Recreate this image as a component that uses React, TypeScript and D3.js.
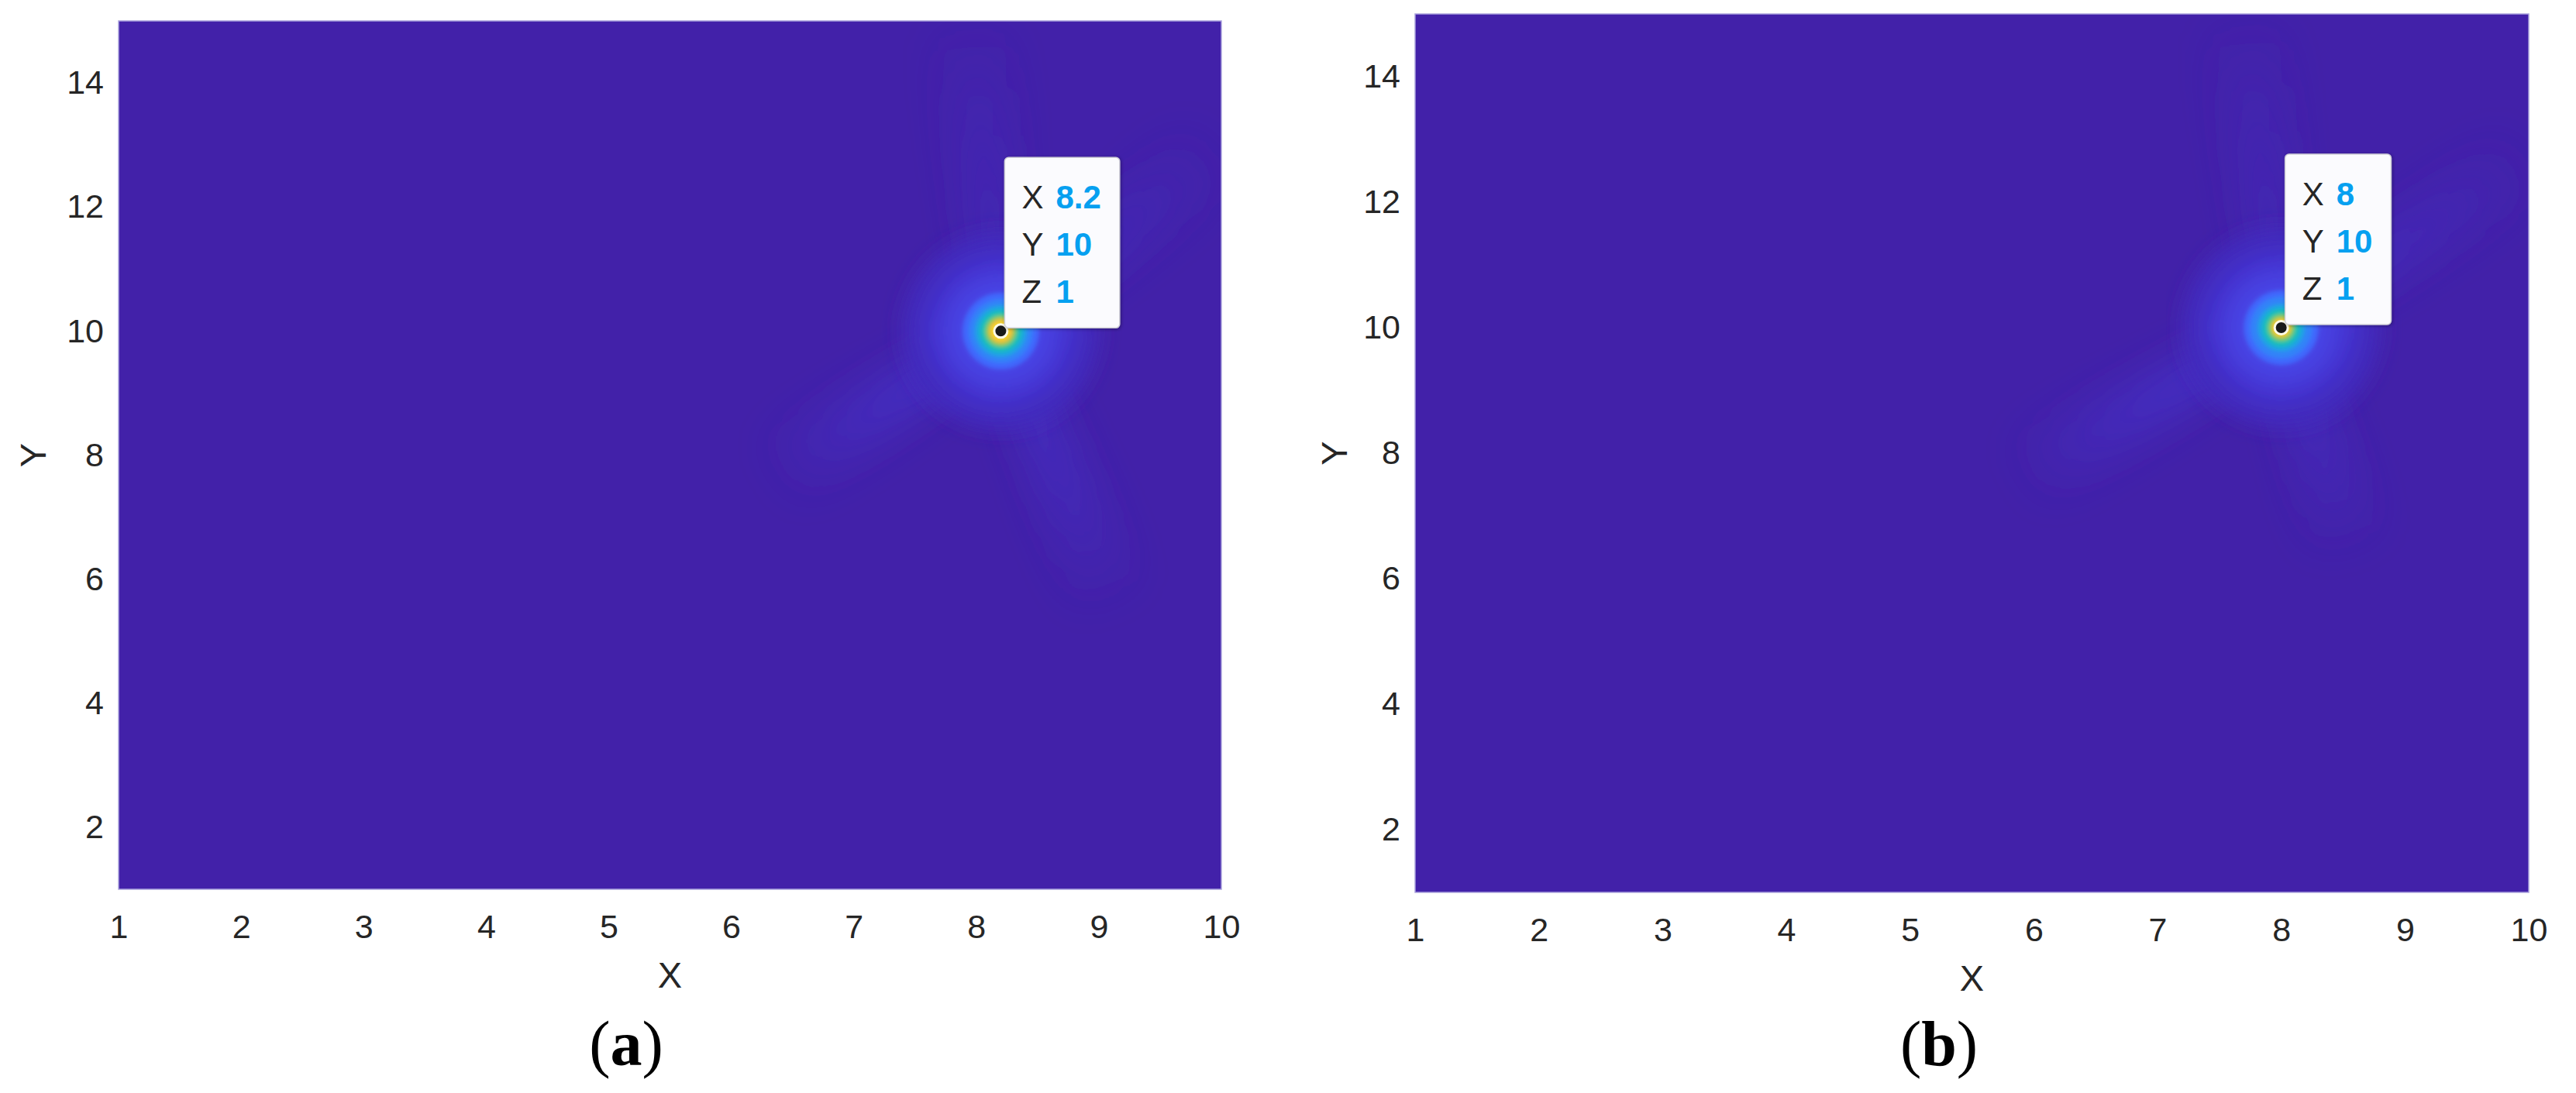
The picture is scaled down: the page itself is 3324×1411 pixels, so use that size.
import React, { useEffect, useRef } from 'react';
import * as d3 from 'd3';

// axes
const xDomain = [1, 10];
const yDomain = [1, 15];
const xTicks = [1, 2, 3, 4, 5, 6, 7, 8, 9, 10];
const yTicks = [2, 4, 6, 8, 10, 12, 14];

// data tips shown on the two panels
const tipX = [8.2, 8];
const tipY = [10, 10];
const tipZ = [1, 1];
const tipNames = ['X', 'Y', 'Z'];
const panelCaptions = ['a', 'b'];

// radial profile of the peak, distance in x units -> level (outer to inner)
const ringDistA = [0.8, 0.6, 0.43, 0.31, 0.26, 0.21, 0.17, 0.13, 0.1, 0.07];
const ringLevelA = [0.03, 0.06, 0.1, 0.2, 0.27, 0.38, 0.5, 0.65, 0.8, 0.92];
const ringDistB = [0.8, 0.6, 0.43, 0.3, 0.25, 0.19, 0.15, 0.11, 0.08, 0.06];
const ringLevelB = [0.03, 0.06, 0.1, 0.2, 0.27, 0.38, 0.5, 0.65, 0.8, 0.92];

// faint streaks leaving the peak: end point and level at the start
const streakEndXA = [6.36, 9.1, 9.96, 7.95];
const streakEndYA = [7.68, 5.64, 12.96, 14.95];
const streakLevelA = [0.06, 0.045, 0.03, 0.025];
const streakEndXB = [5.9, 8.55, 10, 7.7];
const streakEndYB = [7.63, 6.5, 12.74, 14.9];
const streakLevelB = [0.06, 0.04, 0.035, 0.025];

// parula colour map
const parula = [
  '#4221a9', '#4537d5', '#484df0', '#4563fd', '#327cfc', '#2b91ef', '#20a5e3', '#08b5d0',
  '#19bfb6', '#37c897', '#64cd6f', '#9dc943', '#d1bf27', '#f8ba3d', '#fccf30', '#f5e924', '#f9fb15'
];

const panels = [
  { left: 153, top: 27, right: 1576, bottom: 1148, captionX: 808, yLabelDx: -94 },
  { left: 1826, top: 18, right: 3263, bottom: 1152, captionX: 2502, yLabelDx: -88 }
];

const ringDist = [ringDistA, ringDistB];
const ringLevel = [ringLevelA, ringLevelB];
const streakEndX = [streakEndXA, streakEndXB];
const streakEndY = [streakEndYA, streakEndYB];
const streakLevel = [streakLevelA, streakLevelB];

const sans = '"Liberation Sans", Arial, Helvetica, sans-serif';

const App = () => {
  const svgRef = useRef<SVGSVGElement>(null);

  useEffect(() => {
    const svg = d3.select(svgRef.current);
    svg.selectAll('*').remove();

    const colour = d3.scaleLinear<string>()
      .domain(parula.map((_, i) => i / (parula.length - 1)))
      .range(parula)
      .interpolate(d3.interpolateRgb)
      .clamp(true);

    const defs = svg.append('defs');
    const blur = (id: string, sd: number) => {
      defs.append('filter').attr('id', id)
        .attr('x', '-60%').attr('y', '-60%').attr('width', '220%').attr('height', '220%')
        .append('feGaussianBlur').attr('stdDeviation', sd);
    };
    blur('haze', 26);
    blur('soft', 12);
    blur('core', 2.5);
    const shadow = defs.append('filter').attr('id', 'shadow')
      .attr('x', '-20%').attr('y', '-20%').attr('width', '140%').attr('height', '140%');
    shadow.append('feDropShadow').attr('dx', 1).attr('dy', 1).attr('stdDeviation', 2)
      .attr('flood-color', '#000').attr('flood-opacity', 0.35);

    panels.forEach((p, i) => {
      const x = d3.scaleLinear().domain(xDomain).range([p.left, p.right]);
      const y = d3.scaleLinear().domain(yDomain).range([p.bottom, p.top]);
      const g = svg.append('g');

      const clipId = `clip-${i}`;
      defs.append('clipPath').attr('id', clipId).append('rect')
        .attr('x', p.left).attr('y', p.top)
        .attr('width', p.right - p.left).attr('height', p.bottom - p.top);

      const field = g.append('g').attr('clip-path', `url(#${clipId})`);
      field.append('rect')
        .attr('x', p.left).attr('y', p.top)
        .attr('width', p.right - p.left).attr('height', p.bottom - p.top)
        .attr('fill', colour(0));

      const px = x(tipX[i]);
      const py = y(tipY[i]);

      // streaks
      const streaks = field.append('g').attr('filter', 'url(#haze)');
      streakEndX[i].forEach((ex, k) => {
        const qx = x(ex);
        const qy = y(streakEndY[i][k]);
        const len = Math.hypot(qx - px, qy - py);
        const nx = -(qy - py) / len;
        const ny = (qx - px) / len;
        const w0 = 14;
        const w1 = 45;
        const c = colour(streakLevel[i][k]);
        const gid = `streak-${i}-${k}`;
        const grad = defs.append('linearGradient').attr('id', gid)
          .attr('gradientUnits', 'userSpaceOnUse')
          .attr('x1', px).attr('y1', py).attr('x2', qx).attr('y2', qy);
        grad.append('stop').attr('offset', 0).attr('stop-color', c).attr('stop-opacity', 1);
        grad.append('stop').attr('offset', 0.55).attr('stop-color', c).attr('stop-opacity', 0.5);
        grad.append('stop').attr('offset', 1).attr('stop-color', c).attr('stop-opacity', 0);
        streaks.append('path')
          .attr('d', `M${px + nx * w0},${py + ny * w0}L${qx + nx * w1},${qy + ny * w1}L${qx - nx * w1},${qy - ny * w1}L${px - nx * w0},${py - ny * w0}Z`)
          .attr('fill', `url(#${gid})`);
      });

      // peak
      const rings = field.append('g').attr('filter', 'url(#core)');
      ringDist[i].forEach((d, k) => {
        const r = x(tipX[i] + d) - px;
        rings.append('circle')
          .attr('cx', px).attr('cy', py).attr('r', r)
          .attr('fill', colour(ringLevel[i][k]))
          .attr('filter', k < 3 ? 'url(#soft)' : null);
      });

      // plot edge
      g.append('rect')
        .attr('x', p.left).attr('y', p.top)
        .attr('width', p.right - p.left).attr('height', p.bottom - p.top)
        .attr('fill', 'none').attr('stroke', '#aaa2dd').attr('stroke-width', 1.5);

      // axes
      const xAxis = d3.axisBottom(x).tickValues(xTicks).tickSize(0).tickPadding(32).tickFormat(d3.format('d'));
      const yAxis = d3.axisLeft(y).tickValues(yTicks).tickSize(0).tickPadding(19).tickFormat(d3.format('d'));
      const gx = g.append('g').attr('transform', `translate(0,${p.bottom})`).call(xAxis);
      const gy = g.append('g').attr('transform', `translate(${p.left},0)`).call(yAxis);
      [gx, gy].forEach(a => {
        a.select('.domain').remove();
        a.selectAll('line').remove();
        a.attr('font-family', sans).attr('font-size', 43);
        a.selectAll('text').attr('fill', '#262626');
      });

      g.append('text')
        .attr('x', (p.left + p.right) / 2).attr('y', p.bottom + 127)
        .attr('text-anchor', 'middle').attr('font-family', sans).attr('font-size', 47)
        .attr('fill', '#262626').text('X');
      g.append('text')
        .attr('transform', `translate(${p.left + p.yLabelDx},${(p.top + p.bottom) / 2}) rotate(-90)`)
        .attr('text-anchor', 'middle').attr('font-family', sans).attr('font-size', 47)
        .attr('fill', '#262626').text('Y');

      const cap = g.append('text')
        .attr('x', p.captionX).attr('y', 1375)
        .attr('text-anchor', 'middle')
        .attr('font-family', '"Liberation Serif", "Times New Roman", serif')
        .attr('font-size', 82).attr('fill', '#000');
      cap.append('tspan').text('(');
      cap.append('tspan').attr('font-weight', 'bold').text(panelCaptions[i]);
      cap.append('tspan').text(')');

      // data tip marker
      g.append('circle').attr('cx', px).attr('cy', py).attr('r', 8.5)
        .attr('fill', '#1a1a1a').attr('stroke', '#fffbea').attr('stroke-width', 3);

      // data tip box
      const values = [tipX[i], tipY[i], tipZ[i]];
      const tip = g.append('g');
      const box = tip.append('rect');
      const boxLeft = px + 5;
      const boxBottom = py - 4;
      const boxHeight = 220;
      const boxTop = boxBottom - boxHeight;
      let maxW = 0;
      tipNames.forEach((n, k) => {
        const baseline = boxTop + 66 + k * 61;
        tip.append('text')
          .attr('x', boxLeft + 22).attr('y', baseline)
          .attr('font-family', sans).attr('font-size', 42).attr('fill', '#262626')
          .text(n);
        const t = tip.append('text')
          .attr('x', boxLeft + 66).attr('y', baseline)
          .attr('font-family', sans).attr('font-size', 42).attr('font-weight', 'bold')
          .attr('fill', '#06a0f0')
          .text(String(values[k]));
        const node = t.node() as SVGTextElement;
        maxW = Math.max(maxW, node.getComputedTextLength());
      });
      box.attr('x', boxLeft).attr('y', boxTop)
        .attr('width', 66 + maxW + 24).attr('height', boxHeight)
        .attr('rx', 5)
        .attr('fill', '#fbfbfe').attr('stroke', '#cfcfd6').attr('stroke-width', 1.5)
        .attr('filter', 'url(#shadow)');
    });
  }, []);

  return (
    <svg
      ref={svgRef}
      width={3324}
      height={1411}
      style={{ position: 'absolute', left: 0, top: 0, background: '#fff' }}
    />
  );
};

export default App;
